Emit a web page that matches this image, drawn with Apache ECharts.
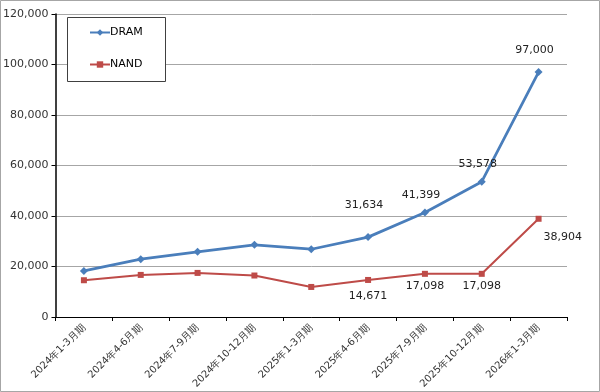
<!DOCTYPE html>
<html><head><meta charset="utf-8">
<script src="https://cdn.jsdelivr.net/npm/echarts@6/dist/echarts.min.js"></script>
<style>html,body{margin:0;padding:0;background:#fff}#c{width:600px;height:392px}</style>
</head><body><div id="c"></div>
<script>
const categories = ['2024年1-3月期','2024年4-6月期','2024年7-9月期','2024年10-12月期','2025年1-3月期','2025年4-6月期','2025年7-9月期','2025年10-12月期','2026年1-3月期'];
const dramValues = [18250, 22900, 25800, 28580, 26840, 31634, 41399, 53578, 97000];
const nandValues = [14560, 16670, 17460, 16430, 11900, 14671, 17098, 17098, 38904];
const yTicks = [0, 20000, 40000, 60000, 80000, 100000, 120000];
const dramLabeled = [5, 6, 7, 8];
const nandLabeled = [5, 6, 7, 8];

const font = 'DejaVu Sans, Verdana, sans-serif';
const fmt = v => v.toLocaleString('en-US');

const dramData = dramValues.map((v, i) => {
  const d = {value: v};
  if (dramLabeled.includes(i)) {
    d.label = {show: true, position: 'top', distance: i === 5 ? 22 : (i === 8 ? 12 : 8), offset: [-4, 0], formatter: p => fmt(p.value)};
  }
  return d;
});
const nandData = nandValues.map((v, i) => {
  const d = {value: v};
  if (nandLabeled.includes(i)) {
    if (i === 8) d.label = {show: true, position: 'right', distance: 2, offset: [0, 18], formatter: p => fmt(p.value)};
    else d.label = {show: true, position: 'bottom', distance: i === 5 ? 8 : 4, formatter: p => fmt(p.value)};
  }
  return d;
});

const chart = echarts.init(document.getElementById('c'), null, {renderer: 'canvas'});
chart.setOption({
  animation: false,
  backgroundColor: '#fff',
  textStyle: {fontFamily: font},
  graphic: [
    {type: 'rect', shape: {x: 0.5, y: 0.5, width: 599, height: 391}, style: {fill: 'none', stroke: '#a6a6a6', lineWidth: 1}, silent: true, z: -1},
    {type: 'rect', shape: {x: 67.5, y: 17.5, width: 98, height: 64}, style: {fill: '#fff', stroke: '#404040', lineWidth: 1}, silent: true, z: 5}
  ],
  grid: {left: 54, right: 33, top: 14, bottom: 75, containLabel: false},
  legend: {
    orient: 'vertical', left: 67, top: 17, z: 10,
    padding: [10, 10, 10, 22], itemGap: 21, itemWidth: 20, itemHeight: 8,
    textStyle: {fontFamily: font, fontSize: 11, color: '#000', padding: [0, 0, 0, -5]},
    data: ['DRAM', 'NAND']
  },
  xAxis: {
    type: 'category', data: categories, boundaryGap: true,
    axisLine: {lineStyle: {color: '#000', width: 1}},
    axisTick: {show: true, alignWithLabel: false, length: 4, lineStyle: {color: '#000'}},
    axisLabel: {rotate: 45, fontSize: 10, color: '#333', fontFamily: font, margin: 9, interval: 0}
  },
  yAxis: {
    type: 'value', min: 0, max: 120000, interval: 20000,
    axisLine: {show: true, lineStyle: {color: '#000', width: 1.5}},
    axisTick: {show: true, length: 4, lineStyle: {color: '#000'}},
    axisLabel: {fontSize: 11, color: '#333', fontFamily: font, margin: 7, formatter: v => yTicks.includes(v) ? fmt(v) : ''},
    splitLine: {lineStyle: {color: '#a6a6a6', width: 1}}
  },
  series: [
    {name: 'DRAM', type: 'line', data: dramData, symbol: 'diamond', symbolSize: 8,
      itemStyle: {color: '#4a7ebb'}, lineStyle: {color: '#4a7ebb', width: 2.75},
      label: {fontSize: 11, color: '#222', fontFamily: font}},
    {name: 'NAND', type: 'line', data: nandData, symbol: 'rect', symbolSize: 6,
      itemStyle: {color: '#be4b48'}, lineStyle: {color: '#be4b48', width: 2},
      label: {fontSize: 11, color: '#222', fontFamily: font}}
  ]
});
</script></body></html>
